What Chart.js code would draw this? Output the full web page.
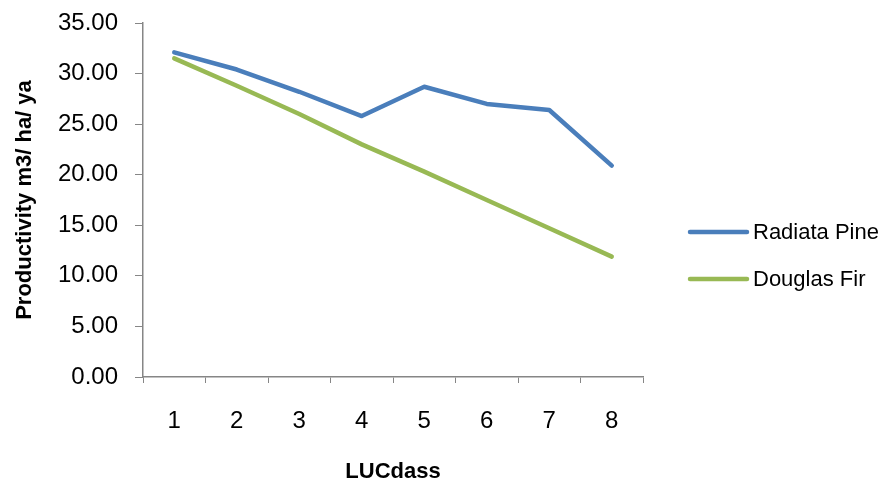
<!DOCTYPE html>
<html>
<head>
<meta charset="utf-8">
<script src="https://cdn.jsdelivr.net/npm/chart.js@4.4.1/dist/chart.umd.min.js"></script>
<style>
  html, body { margin: 0; padding: 0; background: #fff; }
  #wrap { width: 888px; height: 486px; }
</style>
</head>
<body>
<div id="wrap"><canvas id="chart" width="888" height="486"></canvas></div>
<script>
// data
const categories = ['1', '2', '3', '4', '5', '6', '7', '8'];
const radiataPine = [32.1, 30.4, 28.2, 25.8, 28.7, 27.0, 26.4, 20.9];
const douglasFir = [31.5, 28.8, 26.0, 23.0, 20.3, 17.5, 14.7, 11.9];
const yMin = 0;
const yMax = 35;
const yStep = 5;

const axisColor = '#868686';
const fontFamily = '"Liberation Sans", Arial, sans-serif';

// legend drawn at the right, like the original
const sideLegend = {
  id: 'sideLegend',
  afterDraw(chart) {
    const ctx = chart.ctx;
    const area = chart.chartArea;
    const x0 = area.right + 47;
    const lineLen = 57;
    const rowGap = 47;
    const yStart = area.top + 209;
    ctx.save();
    ctx.font = '22px ' + fontFamily;
    ctx.textBaseline = 'middle';
    ctx.fillStyle = '#000';
    chart.data.datasets.forEach((ds, i) => {
      const y = yStart + i * rowGap;
      ctx.strokeStyle = ds.borderColor;
      ctx.lineWidth = 4.5;
      ctx.lineCap = 'round';
      ctx.beginPath();
      ctx.moveTo(x0, y);
      ctx.lineTo(x0 + lineLen, y);
      ctx.stroke();
      ctx.fillText(ds.label, x0 + lineLen + 6, y + 1);
    });
    ctx.restore();
  }
};

new Chart(document.getElementById('chart'), {
  type: 'line',
  data: {
    labels: categories,
    datasets: [
      {
        label: 'Radiata Pine',
        data: radiataPine,
        borderColor: '#4A7EBB',
        backgroundColor: '#4A7EBB',
        borderWidth: 4.5,
        pointRadius: 0,
        tension: 0,
        borderCapStyle: 'round',
        borderJoinStyle: 'round',
      },
      {
        label: 'Douglas Fir',
        data: douglasFir,
        borderColor: '#98B954',
        backgroundColor: '#98B954',
        borderWidth: 4.5,
        pointRadius: 0,
        tension: 0,
        borderCapStyle: 'round',
        borderJoinStyle: 'round',
      },
    ],
  },
  options: {
    responsive: false,
    animation: false,
    layout: {
      autoPadding: false,
      padding: { left: 0, right: 245, top: 23, bottom: 0 },
    },
    plugins: {
      legend: { display: false },
      tooltip: { enabled: false },
    },
    scales: {
      x: {
        offset: true,
        afterFit: (scale) => {
          scale.height = 109;
          scale.paddingLeft = 0;
          scale.paddingRight = 0;
        },
        grid: {
          offset: true,
          drawOnChartArea: false,
          color: axisColor,
          tickLength: 6,
        },
        border: { color: axisColor, width: 1.5 },
        ticks: {
          color: '#000',
          padding: 24,
          font: { family: fontFamily, size: 24 },
        },
        title: {
          display: true,
          text: 'LUCdass',
          color: '#000',
          font: { family: fontFamily, size: 22, weight: 'bold' },
          padding: { top: 0, bottom: 1 },
        },
      },
      y: {
        min: yMin,
        max: yMax,
        afterFit: (scale) => {
          scale.width = 143;
          scale.paddingTop = 0;
          scale.paddingBottom = 0;
        },
        grid: {
          drawOnChartArea: false,
          color: axisColor,
          tickLength: 8,
        },
        border: { color: axisColor, width: 1.5 },
        ticks: {
          stepSize: yStep,
          color: '#000',
          padding: 17,
          font: { family: fontFamily, size: 24 },
          callback: (v) => Number(v).toFixed(2),
        },
        title: {
          display: true,
          text: 'Productivity m3/ ha/ ya',
          color: '#000',
          font: { family: fontFamily, size: 22, weight: 'bold' },
          padding: { top: 12, bottom: 0 },
        },
      },
    },
  },
  plugins: [sideLegend],
});
</script>
</body>
</html>
